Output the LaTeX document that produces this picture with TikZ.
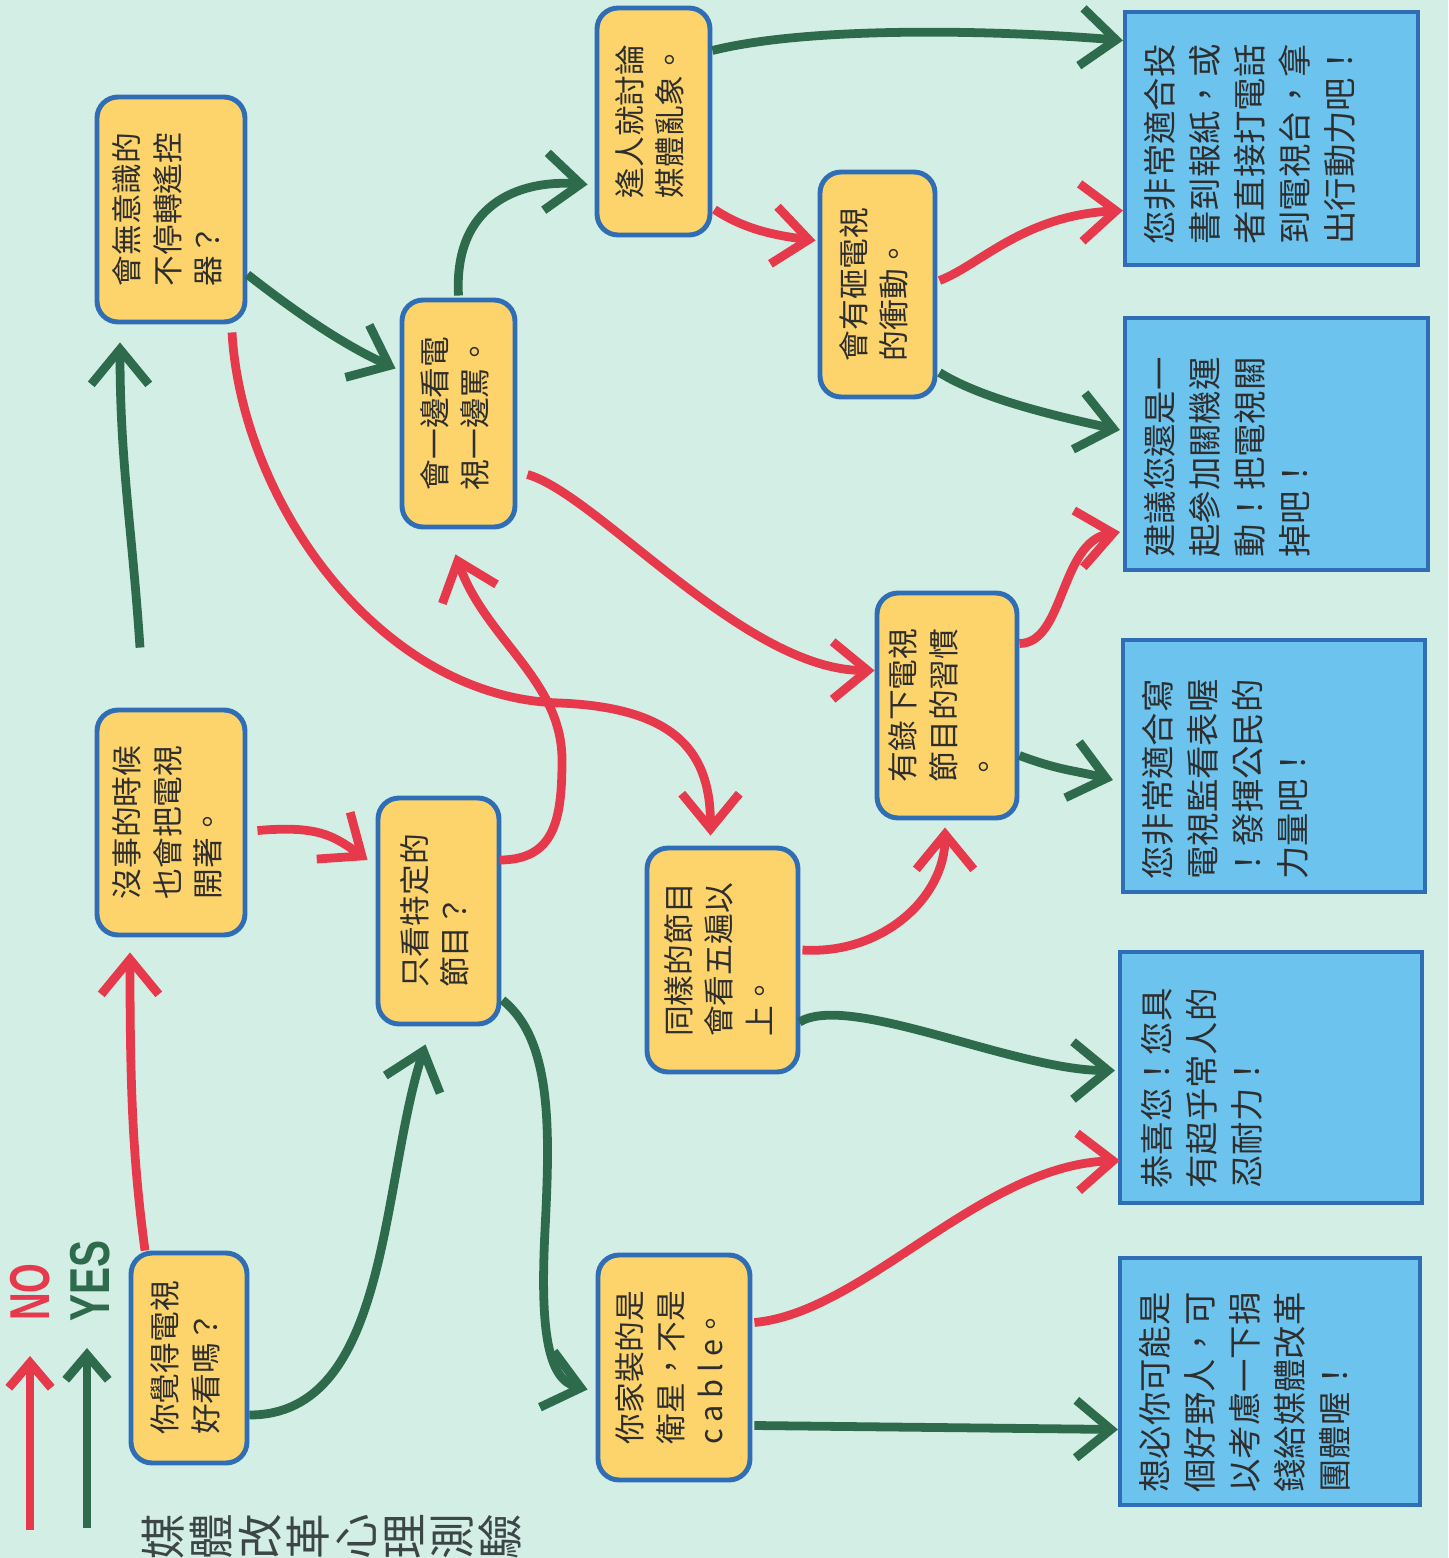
\documentclass[tikz,border=0pt]{standalone}
\usepackage{fontspec}
\usepackage{graphicx}
\usetikzlibrary{arrows.meta}
\newfontfamily\cjk{Noto Sans CJK TC}
\setsansfont{Liberation Sans}

\definecolor{bgmint}{HTML}{D3EEE5}
\definecolor{qyellow}{HTML}{FDD46B}
\definecolor{frameblue}{HTML}{2F6DB5}
\definecolor{ablue}{HTML}{6CC3EE}
\definecolor{nored}{HTML}{E63A4C}
\definecolor{yesgreen}{HTML}{2E6A4C}
\definecolor{inkgray}{HTML}{2E2E2E}
\definecolor{titlegray}{HTML}{3C4646}

% rotated block of lines, reading upwards
\newcommand{\vtext}[1]{\rotatebox{90}{\begin{tabular}{@{}l@{}}#1\end{tabular}}}

\tikzset{
  qbox/.style={draw=frameblue, line width=2.8pt, fill=qyellow, rounded corners=0.42cm,
    inner sep=0pt, text=inkgray, font=\cjk\fontsize{17.5}{23}\selectfont},
  abox/.style={draw=frameblue, line width=2.4pt, fill=ablue, inner sep=0pt},
  atext/.style={inner sep=0pt, anchor=south west, text=inkgray, font=\cjk\fontsize{19}{25.6}\selectfont},
  yesarrow/.style={draw=yesgreen, line width=5pt, -{Straight Barb[length=0.7cm,width=1.15cm]}},
  noarrow/.style={draw=nored, line width=5pt, -{Straight Barb[length=0.7cm,width=1.15cm]}},
  keyarrow/.style={line width=5pt, -{Straight Barb[length=0.5cm,width=0.85cm]}},
}

\begin{document}
\begin{tikzpicture}[x=0.02cm, y=-0.02cm]
			% Page
			\fill[bgmint] (0,0) rectangle (1448,1558);
			\useasboundingbox (0,0) rectangle (1448,1558);
			
			% Questions
			\node[qbox, minimum width=2.96cm, minimum height=4.50cm] (a) at (171,209.5) {\vtext{會無意識的\\不停轉遙控\\器？}};
			\node[qbox, minimum width=2.96cm, minimum height=4.50cm] (b) at (171,822.5) {\vtext{沒事的時候\\也會把電視\\開著。}};
			\node[qbox, minimum width=2.32cm, minimum height=4.20cm] (c) at (189,1358) {\vtext{你覺得電視\\好看嗎？}};
			\node[qbox, minimum width=2.42cm, minimum height=4.52cm] (d) at (438.5,911) {\vtext{只看特定的\\節目？}};
			\node[qbox, minimum width=2.26cm, minimum height=4.54cm] (e) at (458.5,413.5) {\vtext{會一邊看電\\視一邊罵。}};
			\node[qbox, minimum width=2.26cm, minimum height=4.54cm] (f) at (653.5,121.5) {\vtext{逢人就討論\\媒體亂象。}};
			\node[qbox, minimum width=2.30cm, minimum height=4.50cm] (g) at (877.5,284.5) {\vtext{會有砸電視\\的衝動。}};
			\node[qbox, minimum width=3.02cm, minimum height=4.48cm] (h) at (722.5,960) {\vtext{同樣的節目\\會看五遍以\\上。}};
			\node[qbox, minimum width=2.80cm, minimum height=4.50cm] (i) at (947,705.5) {\vtext{有錄下電視\\節目的習慣\\。}};
			\node[qbox, minimum width=3.04cm, minimum height=4.50cm] (j) at (674,1367.5) {\vtext{你家裝的是\\衛星，不是\\{\addfontfeatures{LetterSpace=22}cable}。}};
			
			% Answers
			\node[abox, minimum width=5.86cm, minimum height=5.06cm] (r1) at (1271.5,138.5) {};
			\node[abox, minimum width=6.06cm, minimum height=5.04cm] (r2) at (1276.5,444) {};
			\node[abox, minimum width=6.04cm, minimum height=5.04cm] (r3) at (1274,766) {};
			\node[abox, minimum width=6.04cm, minimum height=5.02cm] (r4) at (1271,1077.5) {};
			\node[abox, minimum width=6.00cm, minimum height=4.94cm] (r5) at (1270,1381.5) {};
			\node[atext] (t1) at ([shift={(18,-22)}]r1.south west) {\vtext{您非常適合投\\書到報紙，或\\者直接打電話\\到電視台，拿\\出行動力吧！}};
			\node[atext] (t2) at ([shift={(18,-14)}]r2.south west) {\vtext{建議您還是一\\起參加關機運\\動！把電視關\\掉吧！}};
			\node[atext] (t3) at ([shift={(18,-14)}]r3.south west) {\vtext{您非常適合寫\\電視監看表喔\\！發揮公民的\\力量吧！}};
			\node[atext] (t4) at ([shift={(20,-16)}]r4.south west) {\vtext{恭喜您！您具\\有超乎常人的\\忍耐力！}};
			\node[atext] (t5) at ([shift={(18,-14)}]r5.south west) {\vtext{想必你可能是\\個好野人，可\\以考慮一下捐\\錢給媒體改革\\團體喔！}};
			
			% Connectors
			\coordinate (bend1) at (560,703);
			\coordinate (bend2) at (562,760);
			\coordinate (bend3) at (545,1230);
			\draw[noarrow] ([shift={(-44,0)}]c.north) .. controls +(-12,-90) and +(0,140) .. ([shift={(-41,15)}]b.south);
			\draw[yesarrow] ([shift={(0,57)}]c.east) .. controls +(140,0) and +(-45,140) .. ([shift={(-13,18)}]d.south);
			\draw[yesarrow] ([shift={(-31,-60)}]b.north) .. controls +(-8,-120) and +(0,120) .. ([shift={(-51,18)}]a.south);
			\draw[noarrow] ([shift={(10,8)}]b.east) .. controls +(60,-5) and +(-35,-25) .. ([shift={(-8,-51)}]d.west);
			\draw[yesarrow] ([shift={(0,65)}]a.east) .. controls +(45,35) and +(-55,-25) .. ([shift={(-4,-45)}]e.west);
			\draw[noarrow] ([shift={(61,8)}]a.south) .. controls +(10,170) and +(-180,-5) .. (bend1) .. controls +(120,5) and +(0,-80) .. ([shift={(-12,-10)}]h.north);
			\draw[noarrow] ([shift={(-2,-51)}]d.east) .. controls +(55,0) and +(0,60) .. (bend2) .. controls +(0,-80) and +(30,85) .. ([shift={(-3,25)}]e.south);
			\draw[yesarrow] ([shift={(1,89)}]d.east) .. controls +(50,40) and +(5,-100) .. (bend3) .. controls +(-5,100) and +(-40,-10) .. ([shift={(-8,22)}]j.west);
			\draw[yesarrow] ([shift={(0,-2)}]e.north) .. controls +(-5,-90) and +(-70,-5) .. ([shift={(-7,63)}]f.west);
			\draw[noarrow] ([shift={(10,61)}]e.east) .. controls +(70,20) and +(-130,0) .. ([shift={(0,-35)}]i.west);
			\draw[yesarrow] ([shift={(0,-71)}]f.east) .. controls +(100,-25) and +(-120,-10) .. ([shift={(0,-98)}]r1.west);
			\draw[noarrow] ([shift={(2,88)}]f.east) .. controls +(30,20) and +(-40,-5) .. ([shift={(-2,-44)}]g.west);
			\draw[noarrow] ([shift={(2,-4)}]g.east) .. controls +(40,-15) and +(-100,5) .. ([shift={(0,72)}]r1.west);
			\draw[yesarrow] ([shift={(2,88)}]g.east) .. controls +(40,25) and +(-70,-15) .. ([shift={(-3,-14)}]r2.west);
			\draw[noarrow] ([shift={(2,-10)}]h.east) .. controls +(80,5) and +(0,70) .. ([shift={(-2,7)}]i.south);
			\draw[yesarrow] ([shift={(-1,62)}]h.east) .. controls +(50,-30) and +(-100,0) .. ([shift={(-3,-7)}]r4.west);
			\draw[noarrow] ([shift={(0,-62)}]i.east) .. controls +(45,0) and +(-60,10) .. ([shift={(-3,88)}]r2.west);
			\draw[yesarrow] ([shift={(0,50)}]i.east) .. controls +(40,15) and +(-40,-10) .. ([shift={(-8,14)}]r3.west);
			\draw[noarrow] ([shift={(2,-45)}]j.east) .. controls +(110,-10) and +(-140,5) .. ([shift={(2,83)}]r4.west);
			\draw[yesarrow] ([shift={(2,58)}]j.east) -- ([shift={(0,48)}]r5.west);
			
			% Legend
			\coordinate (no0) at (30,1530);
			\coordinate (no1) at (30,1356);
			\coordinate (yes0) at (87,1528);
			\coordinate (yes1) at (87,1348);
			\draw[keyarrow, nored] (no0) -- (no1);
			\draw[keyarrow, yesgreen] (yes0) -- (yes1);
			\node[rotate=90, inner sep=0pt, text=nored, font=\sffamily\bfseries\fontsize{32}{32}\selectfont] (nolabel) at (30,1292) {\scalebox{0.68}[1]{NO}};
			\node[rotate=90, inner sep=0pt, text=yesgreen, font=\sffamily\bfseries\fontsize{32}{32}\selectfont] (yeslabel) at (90,1281) {\scalebox{0.72}[1]{YES}};
			
			% Title
			\node[rotate=90, inner sep=0pt, align=center, text=titlegray, font=\cjk\fontsize{26}{27.4}\selectfont] (title) at (332,1537) {媒\\體\\改\\革\\心\\理\\測\\驗};
		\end{tikzpicture}
\end{document}
